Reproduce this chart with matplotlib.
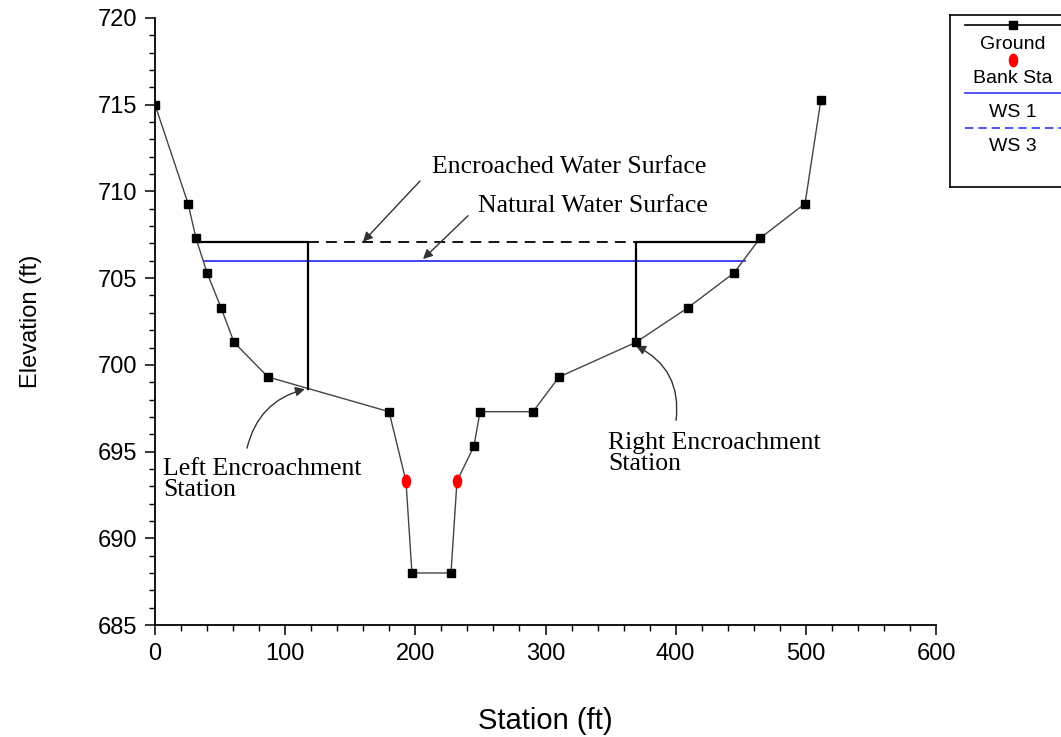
import matplotlib.pyplot as plt
from matplotlib.path import Path
from matplotlib.transforms import Affine2D
from matplotlib.ticker import MultipleLocator

# Ground profile
ground_sta = [0, 25.4, 31.5, 40, 50.7, 60.7, 86.8, 179.8, 192.8, 197.4, 227.4, 232, 245, 249.7, 290.4, 310.4, 369.5, 409.5, 444.8, 464.8, 499.4, 511.6]
ground_elev = [715.0, 709.3, 707.3, 705.3, 703.3, 701.3, 699.3, 697.3, 693.3, 688.0, 688.0, 693.3, 695.3, 697.3, 697.3, 699.3, 701.3, 703.3, 705.3, 707.3, 709.3, 715.3]
marker_idx = [0, 1, 2, 3, 4, 5, 6, 7, 9, 10, 12, 13, 14, 15, 16, 17, 18, 19, 20, 21]

# Bank stations
bank_sta = [192.8, 232.0]
bank_elev = [693.3, 693.3]

# Water surfaces
ws1_sta = [37.6, 453.0]
ws1_elev = [706.0, 706.0]
ws3_elev = 707.1
left_enc = 117.5
left_enc_ground = 698.6
right_enc = 369.5
right_enc_ground = 701.3
ws3_left = 31.5
ws3_right = 464.8

fig = plt.figure(figsize=(10.61, 7.37), dpi=100)
ax = fig.add_axes([155 / 1061, 1 - 625 / 737, 781 / 1061, 607 / 737])

ax.plot(ground_sta, ground_elev, color='#444444', lw=1.0, zorder=3)
ax.plot([ground_sta[i] for i in marker_idx], [ground_elev[i] for i in marker_idx],
        ls='none', marker='s', ms=6, color='black', zorder=4)

ellipse = Path.unit_circle().transformed(Affine2D().scale(0.65, 1.0))
ax.plot(bank_sta, bank_elev, ls='none', marker=ellipse, ms=9, color='red', zorder=5)

ax.plot(ws1_sta, ws1_elev, color='#3333ff', lw=1.3, zorder=2)

# encroached water surface and encroachment lines
ax.plot([left_enc, right_enc], [ws3_elev, ws3_elev], color='black', lw=1.3, ls=(0, (6, 4)), zorder=2)
ax.plot([ws3_left, left_enc, left_enc], [ws3_elev, ws3_elev, left_enc_ground], color='black', lw=1.6, zorder=3)
ax.plot([ws3_right, right_enc, right_enc], [ws3_elev, ws3_elev, right_enc_ground], color='black', lw=1.6, zorder=3)

ax.set_xlim(0, 600)
ax.set_ylim(685, 720)
ax.xaxis.set_major_locator(MultipleLocator(100))
ax.xaxis.set_minor_locator(MultipleLocator(20))
ax.yaxis.set_major_locator(MultipleLocator(5))
ax.yaxis.set_minor_locator(MultipleLocator(1))
ax.spines['top'].set_visible(False)
ax.spines['right'].set_visible(False)
ax.spines['left'].set_linewidth(1.3)
ax.spines['bottom'].set_linewidth(1.3)
ax.tick_params(which='major', length=7, width=1.1, labelsize=17)
ax.tick_params(axis='y', which='major', pad=6)
ax.tick_params(axis='x', which='major', pad=6)
ax.tick_params(which='minor', length=4, width=1.0)
for lab in ax.get_xticklabels() + ax.get_yticklabels():
    lab.set_fontfamily('Liberation Sans')

ax.set_xlabel('Station (ft)', fontsize=21, family='Liberation Sans', labelpad=30)
ax.set_ylabel('Elevation (ft)', fontsize=17, family='Liberation Sans', labelpad=40)

serif = dict(family='Liberation Serif', fontsize=18.5, color='black')
arrow = dict(arrowstyle='-|>', color='#333333', lw=1.0, mutation_scale=14, shrinkA=0, shrinkB=0)
ax.annotate('', xy=(159.8, 707.1), xytext=(203.6, 710.6), arrowprops=arrow)
ax.text(212.8, 711.4, 'Encroached Water Surface', ha='left', va='center', **serif)
ax.annotate('', xy=(205.9, 706.1), xytext=(240.5, 708.6), arrowprops=arrow)
ax.text(248.1, 709.15, 'Natural Water Surface', ha='left', va='center', **serif)
ax.annotate('', xy=(115.2, 698.6), xytext=(70.7, 695.2),
            arrowprops=dict(arrow, connectionstyle='arc3,rad=-0.3'))
ax.text(6.1, 693.4, 'Left Encroachment\nStation', ha='left', va='center', linespacing=0.95, **serif)
ax.annotate('', xy=(369.5, 701.1), xytext=(400.3, 696.8),
            arrowprops=dict(arrow, connectionstyle='arc3,rad=0.35'))
ax.text(348, 694.9, 'Right Encroachment\nStation', ha='left', va='center', linespacing=0.95, **serif)

# legend box
lg = fig.add_axes([950 / 1061, 1 - 187 / 737, 130 / 1061, 172 / 737])
lg.set_xlim(0, 1)
lg.set_ylim(0, 1)
lg.set_xticks([])
lg.set_yticks([])
for s in lg.spines.values():
    s.set_linewidth(1.2)
x0, x1, xc = 15 / 130, 1.0, 63 / 130
leg_font = dict(ha='center', va='center', fontsize=14, family='Liberation Sans')
lg.plot([x0, x1], [0.942, 0.942], color='black', lw=1.2)
lg.plot([xc], [0.942], marker='s', ms=6, color='black')
lg.text(xc, 0.826, 'Ground', **leg_font)
lg.plot([xc], [0.738], marker=ellipse, ms=9, color='red')
lg.text(xc, 0.628, 'Bank Sta', **leg_font)
lg.plot([x0, x1], [0.547, 0.547], color='#3333ff', lw=1.2)
lg.text(xc, 0.436, 'WS 1', **leg_font)
lg.plot([x0, x1], [0.343, 0.343], color='#3333ff', lw=1.2, ls=(0, (5, 3)))
lg.text(xc, 0.238, 'WS 3', **leg_font)

fig.savefig('out.png', dpi=100)
